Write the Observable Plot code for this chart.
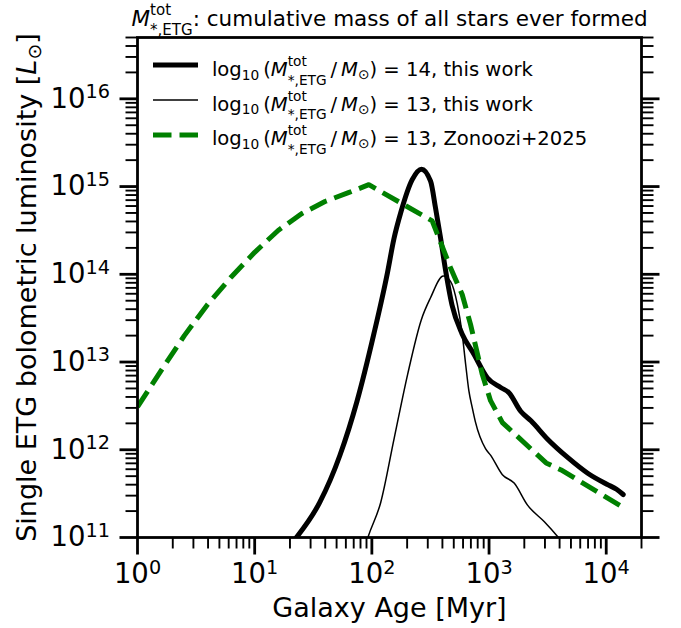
<!DOCTYPE html>
<html>
<head>
<meta charset="utf-8">
<script src="https://cdn.jsdelivr.net/npm/d3@7"></script>
<script src="https://cdn.jsdelivr.net/npm/@observablehq/plot@0.6"></script>
<style>
  body { margin: 0; background: #fff; }
  svg { font-family: "DejaVu Sans", sans-serif; }
</style>
</head>
<body>
<div id="chart"></div>
<script>
// ---- Data (age in Myr, luminosity in L_sun) ----
const age14 = [20, 22.7, 35.9, 53.5, 74.6, 104, 136, 154, 177, 221, 265, 317, 349, 385, 423, 483, 589, 743, 966, 1256, 1479, 1862, 2280, 3162, 4710, 7000, 10380, 12250, 13960];
const lum14 = [8.1e10, 1.0e11, 2.51e11, 8.71e11, 3.55e12, 2.09e13, 1.05e14, 2.51e14, 5.13e14, 1.20e15, 1.58e15, 1.15e15, 5.75e14, 2.63e14, 1.17e14, 4.47e13, 2.09e13, 1.23e13, 6.61e12, 5.13e12, 4.47e12, 2.75e12, 2.14e12, 1.32e12, 8.13e11, 5.37e11, 3.98e11, 3.55e11, 3.09e11];

const age13 = [87, 92.5, 119, 155, 202, 264, 316, 407, 469, 536, 590, 631, 673, 719, 764, 933, 1030, 1300, 1637, 2130, 2965, 3860, 4170];
const lum13 = [7.6e10, 1.0e11, 2.51e11, 1.35e12, 7.24e12, 3.02e13, 5.37e13, 9.55e13, 8.32e13, 4.57e13, 2.09e13, 9.5e12, 4.68e12, 3.02e12, 2.09e12, 1.03e12, 8.7e11, 5.2e11, 4.17e11, 2.34e11, 1.51e11, 1.02e11, 9e10];

const ageZ = [1, 1.585, 2.51, 3.98, 6.31, 10, 15.85, 25.1, 39.8, 63.1, 94.2, 327, 469, 590, 695, 875, 1030, 1300, 3070, 4120, 14450];
const lumZ = [3.09e12, 7.94e12, 2.0e13, 4.57e13, 9.33e13, 1.78e14, 3.16e14, 4.9e14, 6.76e14, 8.51e14, 1.05e15, 4.07e14, 1.19e14, 5.89e13, 2.69e13, 7.24e12, 3.63e12, 2.04e12, 7.08e11, 5.89e11, 2.14e11];

// ---- Ticks ----
const xMajor = [1, 10, 100, 1000, 10000];
const xMinor = [2,3,4,5,6,7,8,9,20,30,40,50,60,70,80,90,200,300,400,500,600,700,800,900,2000,3000,4000,5000,6000,7000,8000,9000,20000];
const yMajor = [1e11, 1e12, 1e13, 1e14, 1e15, 1e16];
const yMinor = [2e11,3e11,4e11,5e11,6e11,7e11,8e11,9e11,2e12,3e12,4e12,5e12,6e12,7e12,8e12,9e12,2e13,3e13,4e13,5e13,6e13,7e13,8e13,9e13,2e14,3e14,4e14,5e14,6e14,7e14,8e14,9e14,2e15,3e15,4e15,5e15,6e15,7e15,8e15,9e15,2e16,3e16,4e16,5e16];

// ---- Text ----
const titleText = "M*,ETG^tot: cumulative mass of all stars ever formed";
const xLabel = "Galaxy Age [Myr]";
const yLabel = "Single ETG bolometric luminosity [L⊙]";
const legendValues = [14, 13, 13];
const legendSources = ["this work", "this work", "Zonoozi+2025"];
const legendColors = ["black", "black", "#008000"];
const legendWidths = [5, 1.5, 5];
const legendDash = [null, null, "18.5,8"];
const legendTexts = legendValues.map((v, i) => `log10(M*,ETG^tot/M⊙) = ${v}, ${legendSources[i]}`);

const rows = (ages, lums) => ages.map((a, i) => ({age: a, lum: lums[i]}));
const expFmt = d => "10^" + Math.round(Math.log10(d));

function legendSwatches(index, scales, values, dims) {
  const g = d3.create("svg:g").attr("aria-label", "legend swatches");
  legendValues.forEach((v, i) => {
    const y = dims.marginTop + 28 + i * 35;
    g.append("line")
      .attr("x1", dims.marginLeft + 16).attr("x2", dims.marginLeft + 61)
      .attr("y1", y).attr("y2", y)
      .attr("stroke", legendColors[i])
      .attr("stroke-width", legendWidths[i])
      .attr("stroke-dasharray", legendDash[i]);
  });
  return g.node();
}

const legendTextMarks = legendTexts.map((s, i) =>
  Plot.text([s], {
    text: d => d, frameAnchor: "top-left", dx: 74.4, dy: 38.5 + i * 34.5,
    lineAnchor: "bottom", textAnchor: "start", fontSize: 19.6
  })
);

const chart = Plot.plot({
  width: 681, height: 628,
  marginLeft: 137, marginRight: 40, marginTop: 37, marginBottom: 91,
  style: {fontFamily: "DejaVu Sans", background: "white", color: "black"},
  x: {type: "log", domain: [1, 2e4]},
  y: {type: "log", domain: [1e11, 5e16]},
  marks: [
    Plot.line(rows(age14, lum14), {x: "age", y: "lum", stroke: "black", strokeWidth: 5, curve: "monotone-x", clip: true}),
    Plot.line(rows(age13, lum13), {x: "age", y: "lum", stroke: "black", strokeWidth: 1.5, curve: "monotone-x", clip: true}),
    Plot.line(rows(ageZ, lumZ), {x: "age", y: "lum", stroke: "#008000", strokeWidth: 5, strokeDasharray: "18.5,8", strokeLinecap: "butt", clip: true}),
    Plot.frame({strokeWidth: 2.8}),
    Plot.axisX({ticks: xMinor, tickSize: 11.5, strokeWidth: 1.9, fill: "none", label: null}),
    Plot.axisX({ticks: xMajor, tickSize: 17.5, strokeWidth: 2.8, tickPadding: 8.5, tickFormat: expFmt, fontSize: 27.5, label: null}),
    Plot.axisY({anchor: "left", ticks: yMinor, tickSize: 11.5, strokeWidth: 1.9, fill: "none", label: null}),
    Plot.axisY({anchor: "left", ticks: yMajor, tickSize: 17.5, strokeWidth: 2.8, tickPadding: 10, tickFormat: expFmt, fontSize: 27.5, label: null}),
    Plot.axisY({anchor: "right", ticks: yMinor, tickSize: 11.5, strokeWidth: 1.9, fill: "none", label: null}),
    Plot.axisY({anchor: "right", ticks: yMajor, tickSize: 17.5, strokeWidth: 2.8, fill: "none", label: null}),
    Plot.text([titleText], {text: d => d, frameAnchor: "top", dy: -12, lineAnchor: "bottom", textAnchor: "middle", fontSize: 21.5}),
    Plot.text([xLabel], {text: d => d, frameAnchor: "bottom", dy: 79, lineAnchor: "bottom", textAnchor: "middle", fontSize: 27}),
    Plot.text([yLabel], {text: d => d, frameAnchor: "left", dx: -101.5, rotate: -90, lineAnchor: "bottom", textAnchor: "middle", fontSize: 27}),
    legendSwatches,
    ...legendTextMarks
  ]
});
document.getElementById("chart").append(chart);

// ---- Rich text (sub/superscripts) ----
const NS = "http://www.w3.org/2000/svg";
function rich(el, parts) {
  const base = parseFloat(getComputedStyle(el).fontSize);
  while (el.firstChild) el.removeChild(el.firstChild);
  let cur = 0, pendingDx = 0;
  function add(txt, o = {}) {
    const t = document.createElementNS(NS, "tspan");
    t.textContent = txt;
    const scale = o.scale || 1, shift = o.shift || 0;
    if (scale !== 1) t.setAttribute("font-size", base * scale);
    const dy = shift * base - cur;
    if (Math.abs(dy) > 1e-6) t.setAttribute("dy", dy);
    const dx = (o.dx || 0) + pendingDx;
    if (Math.abs(dx) > 1e-6) t.setAttribute("dx", dx);
    pendingDx = 0;
    if (o.italic) t.setAttribute("font-style", "italic");
    el.appendChild(t);
    cur = shift * base;
    return t;
  }
  for (const p of parts) {
    if (p.stack) {
      const a = add(p.stack[0], {scale: 0.7, shift: p.up});
      const la = a.getComputedTextLength();
      const b = add(p.stack[1], {scale: 0.7, shift: p.down, dx: -la});
      const lb = b.getComputedTextLength();
      if (la > lb) pendingDx = la - lb;
    } else add(p.t, p);
  }
}

const legendParts = i => [
  {t: "log"}, {t: "10", scale: 0.7, shift: 0.2}, {t: "\u2009("}, {t: "M", italic: true},
  {stack: ["tot", "*,ETG"], up: -0.5, down: 0.45}, {t: "\u2009/\u2009"}, {t: "M", italic: true},
  {t: "⊙", scale: 0.7, shift: 0.17}, {t: ")"},
  {t: ` = ${legendValues[i]}, ${legendSources[i]}`}
];

d3.select(chart).selectAll("text").each(function () {
  const s = this.textContent;
  const m = /^10\^(\d+)$/.exec(s);
  if (m) rich(this, [{t: "10"}, {t: m[1], scale: 0.7, shift: -0.34}]);
  else if (s === titleText)
    rich(this, [{t: "M", italic: true}, {stack: ["tot", "*,ETG"], up: -0.48, down: 0.42},
                {t: ": cumulative mass of all stars ever formed"}]);
  else if (s === yLabel)
    rich(this, [{t: "Single ETG bolometric luminosity ["}, {t: "L", italic: true},
                {t: "⊙", scale: 0.7, shift: 0.17}, {t: "]"}]);
  else {
    const k = legendTexts.indexOf(s);
    if (k >= 0) rich(this, legendParts(k));
  }
});
</script>
</body>
</html>
